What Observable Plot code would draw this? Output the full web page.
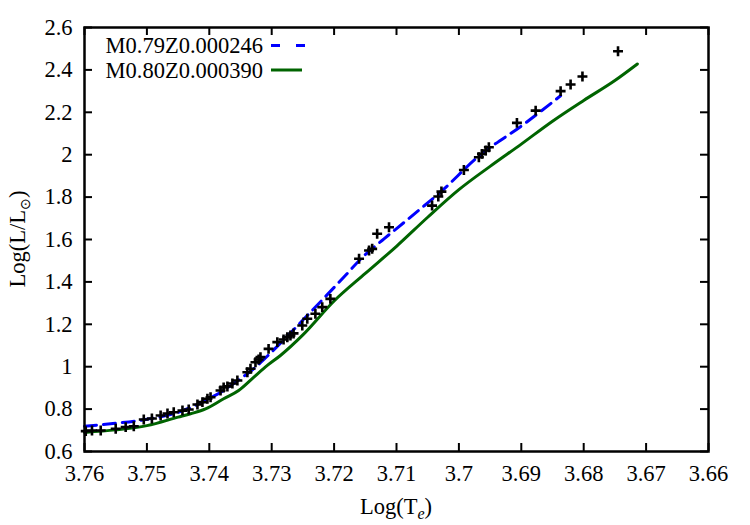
<!DOCTYPE html>
<html><head><meta charset="utf-8">
<script src="https://cdn.jsdelivr.net/npm/d3@7"></script>
<script src="https://cdn.jsdelivr.net/npm/@observablehq/plot@0.6"></script>
<style>body{margin:0;background:#fff;} #chart{width:750px;height:525px;}</style>
</head><body><div id="chart"></div>
<script>
// Observed stars (black + markers)
const obsLogTe = [3.7598,3.7588,3.7574,3.7550,3.7534,3.7521,3.7505,3.7492,3.7478,3.7467,3.7457,3.7443,3.7433,
  3.7419,3.7411,3.7403,3.7398,3.7382,3.7377,3.7371,3.7363,3.7355,3.7339,3.7334,3.7326,3.7321,3.7318,3.7305,
  3.7291,3.7281,3.7275,3.7270,3.7265,3.7251,3.7243,3.7230,3.7219,3.7206,3.7160,3.7144,3.7139,3.7131,3.7112,
  3.7043,3.7033,3.7028,3.6992,3.6968,3.6963,3.6957,3.6952,3.6907,3.6877,3.6837,3.6821,3.6802,3.6745];
const obsLogL = [0.696,0.699,0.699,0.707,0.715,0.719,0.751,0.756,0.770,0.779,0.785,0.793,0.798,
  0.822,0.833,0.849,0.856,0.888,0.902,0.907,0.921,0.935,0.974,0.990,1.021,1.034,1.045,1.084,
  1.116,1.128,1.139,1.147,1.157,1.194,1.226,1.250,1.281,1.320,1.509,1.548,1.556,1.627,1.658,
  1.760,1.803,1.826,1.928,1.988,2.004,2.020,2.035,2.150,2.208,2.300,2.331,2.369,2.488];
// Track M0.79Z0.000246 (blue dashed)
const m079LogTe = [3.760,3.755,3.750,3.745,3.740,3.7377,3.7358,3.7329,3.730,3.725,3.7182,3.7155,3.712,3.7086,3.7056,3.7027,3.6973,3.6893,3.6837];
const m079LogL  = [0.719,0.733,0.752,0.785,0.850,0.888,0.927,0.990,1.070,1.220,1.430,1.515,1.603,1.685,1.758,1.830,1.981,2.150,2.278];
// Track M0.80Z0.000390 (green solid)
const m080LogTe = [3.760,3.755,3.750,3.745,3.743,3.7406,3.7377,3.7353,3.7329,3.7307,3.7286,3.725,3.720,3.715,3.710,3.705,3.700,3.695,3.690,3.685,3.680,3.675,3.6714];
const m080LogL  = [0.690,0.702,0.722,0.762,0.778,0.801,0.849,0.888,0.950,1.006,1.053,1.150,1.310,1.440,1.568,1.705,1.835,1.945,2.050,2.158,2.256,2.350,2.428];
const seriesNames = ["M0.79Z0.000246","M0.80Z0.000390"];
const seriesColors = ["#0000ff","#006400"];
const xTicks = [3.76,3.75,3.74,3.73,3.72,3.71,3.70,3.69,3.68,3.67,3.66];
const yTicks = [0.6,0.8,1.0,1.2,1.4,1.6,1.8,2.0,2.2,2.4,2.6];

const obs = obsLogTe.map((x,i)=>({x, y: obsLogL[i]}));
const m079 = m079LogTe.map((x,i)=>({x, y: m079LogL[i]}));
const m080 = m080LogTe.map((x,i)=>({x, y: m080LogL[i]}));

const W=750,H=525,mL=84,mR=42,mT=27,mB=74;
const pw=W-mL-mR, ph=H-mT-mB, tk=8;
const font="'Liberation Serif', 'Times New Roman', serif";

const plot = Plot.plot({
  width:W, height:H, marginLeft:mL, marginRight:mR, marginTop:mT, marginBottom:mB,
  style:{fontFamily:font, fontSize:"22.5px", color:"#000", background:"#fff", overflow:"visible"},
  x:{domain:[3.76,3.66]},
  y:{domain:[0.6,2.6]},
  marks:[
    Plot.axisX({ticks:xTicks, tickSize:0, tickPadding:14, tickFormat:d=>String(d), label:null}),
    Plot.axisY({ticks:yTicks, tickSize:0, tickPadding:12, tickFormat:d=>String(d), label:null}),
    Plot.ruleX(xTicks,{x:d=>d, insetTop:ph-tk, stroke:"#000", strokeWidth:2}),
    Plot.ruleX(xTicks,{x:d=>d, insetBottom:ph-tk, stroke:"#000", strokeWidth:2}),
    Plot.ruleY(yTicks,{y:d=>d, insetRight:pw-tk, stroke:"#000", strokeWidth:2}),
    Plot.ruleY(yTicks,{y:d=>d, insetLeft:pw-tk, stroke:"#000", strokeWidth:2}),
    Plot.line(m080,{x:"x", y:"y", stroke:seriesColors[1], strokeWidth:3, curve:"monotone-x"}),
    Plot.line(m079,{x:"x", y:"y", stroke:seriesColors[0], strokeWidth:3, strokeDasharray:"12,7", curve:"monotone-x"}),
    Plot.dot(obs,{x:"x", y:"y", symbol:"plus", r:3.3, stroke:"#000", strokeWidth:2.6}),
    Plot.frame({stroke:"#000", strokeWidth:2.5})
  ]
});
document.getElementById("chart").appendChild(plot);

const svg = d3.select(plot);
// axis titles
const xl = svg.append("text").attr("x", mL+pw/2).attr("y", 514).attr("text-anchor","middle")
  .style("font-family",font).style("font-size","22.5px");
xl.append("tspan").text("Log(T");
xl.append("tspan").attr("dy",5).style("font-size","16px").style("font-style","italic").text("e");
xl.append("tspan").attr("dy",-5).text(")");
const yl = svg.append("text").attr("transform",`translate(25,${mT+ph/2}) rotate(-90)`).attr("text-anchor","middle")
  .style("font-family",font).style("font-size","22.5px");
yl.append("tspan").text("Log(L/L");
yl.append("tspan").attr("dy",5).style("font-size","14px").text("⊙");
yl.append("tspan").attr("dy",-5).text(")");
// legend
const legY=[45.5,70];
seriesNames.forEach((name,i)=>{
  svg.append("text").attr("x",263).attr("y",legY[i]+7.5).attr("text-anchor","end")
    .style("font-family",font).style("font-size","22.5px").text(name);
  svg.append("line").attr("x1",271).attr("x2",i===0?307:302).attr("y1",legY[i]).attr("y2",legY[i])
    .attr("stroke",seriesColors[i]).attr("stroke-width",3)
    .attr("stroke-dasharray", i===0?"9,16":null);
});
</script>
</body></html>
